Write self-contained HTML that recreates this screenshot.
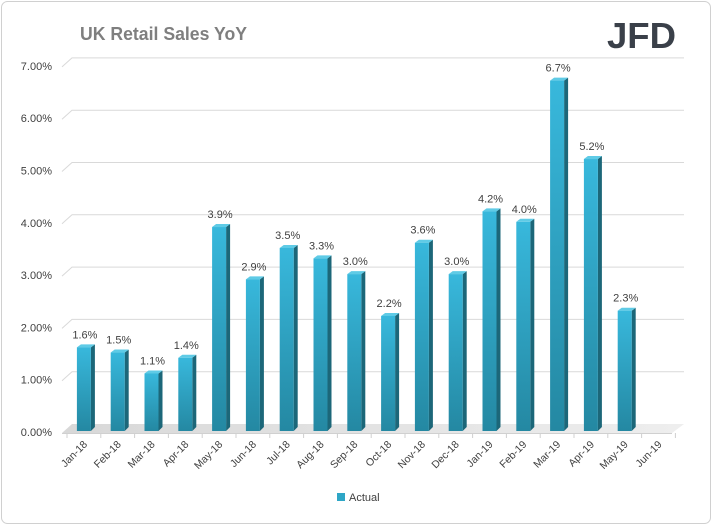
<!DOCTYPE html>
<html><head><meta charset="utf-8"><style>
body{margin:0;background:#fff;}
svg{display:block;font-family:"Liberation Sans",sans-serif;}
</style></head><body>
<svg width="712" height="525" viewBox="0 0 712 525">
<defs>
<linearGradient id="g" x1="0" y1="0" x2="0" y2="1">
<stop offset="0" stop-color="#38b8dc"/><stop offset="1" stop-color="#2488a2"/></linearGradient>
<linearGradient id="fl" x1="0" y1="0" x2="1" y2="0">
<stop offset="0" stop-color="#d8d8d8"/><stop offset="1" stop-color="#eeeeee"/></linearGradient>
</defs>
<rect x="1.5" y="1.5" width="709" height="522" rx="6" fill="#fff" stroke="#d0d0d0"/>
<text x="80" y="40" font-size="18" font-weight="bold" fill="#7f7f7f" textLength="167" lengthAdjust="spacingAndGlyphs">UK Retail Sales YoY</text>
<text x="607" y="48" font-size="36" font-weight="bold" fill="#3a4049" textLength="69" lengthAdjust="spacingAndGlyphs">JFD</text>
<g stroke="#d9d9d9" stroke-width="1" fill="none" id="grid"></g>
<g id="ylab" font-size="11" fill="#404040" text-anchor="end"></g>
<polygon points="62,433 72,424 684,424 672,433" fill="url(#fl)"/>
<line x1="62" y1="433.5" x2="672" y2="433.5" stroke="#d0d0d0"/>
<g id="bars"></g>
<g id="xlab" font-size="10.5" fill="#404040"></g>
<rect x="337" y="493" width="8" height="8" fill="#2ea6c6"/>
<text x="349" y="501" font-size="11" fill="#404040">Actual</text>
</svg>
<script>
var ns="http://www.w3.org/2000/svg";
function el(t,a,p,txt){var e=document.createElementNS(ns,t);for(var k in a)e.setAttribute(k,a[k]);if(txt)e.textContent=txt;document.getElementById(p).appendChild(e);}
var base=431,u=52.3;
for(var i=0;i<=7;i++){var y=base-i*u;
 if(i>0){el("polyline",{points:"62,"+(y+2)+" 72,"+(y-7)+" 684,"+(y-7)},"grid");}
 el("text",{x:52,y:y+5},"ylab",i.toFixed(2)+"%");}
var labs=["Jan-18","Feb-18","Mar-18","Apr-18","May-18","Jun-18","Jul-18","Aug-18","Sep-18","Oct-18","Nov-18","Dec-18","Jan-19","Feb-19","Mar-19","Apr-19","May-19","Jun-19"];
var v=[1.6,1.5,1.1,1.4,3.9,2.9,3.5,3.3,3.0,2.2,3.6,3.0,4.2,4.0,6.7,5.2,2.3];
var sp=33.8,x0=67;
for(var i=0;i<=18;i++){var x=x0+i*sp;el("line",{x1:x,y1:433,x2:x,y2:438,stroke:"#d0d0d0"},"grid");}
for(var i=0;i<18;i++){var c=x0+sp/2+i*sp;
 el("text",{x:c+4,y:445,"text-anchor":"end",transform:"rotate(-45 "+(c+4)+" 445)"},"xlab",labs[i]);
 if(i<v.length){var t=base-v[i]*u;
  el("polygon",{points:(c+7)+","+t+" "+(c+11)+","+(t-3)+" "+(c+11)+","+(base-4)+" "+(c+7)+","+base,fill:"#1c6779"},"bars");
  el("polygon",{points:(c-7)+","+t+" "+(c-3)+","+(t-3)+" "+(c+11)+","+(t-3)+" "+(c+7)+","+t,fill:"#5fcbe6"},"bars");
  el("rect",{x:c-7,y:t,width:14,height:base-t,fill:"url(#g)"},"bars");
  el("text",{x:c+1,y:t-9,"text-anchor":"middle","font-size":"11",fill:"#404040"},"bars",v[i].toFixed(1)+"%");}}
</script>
</body></html>
